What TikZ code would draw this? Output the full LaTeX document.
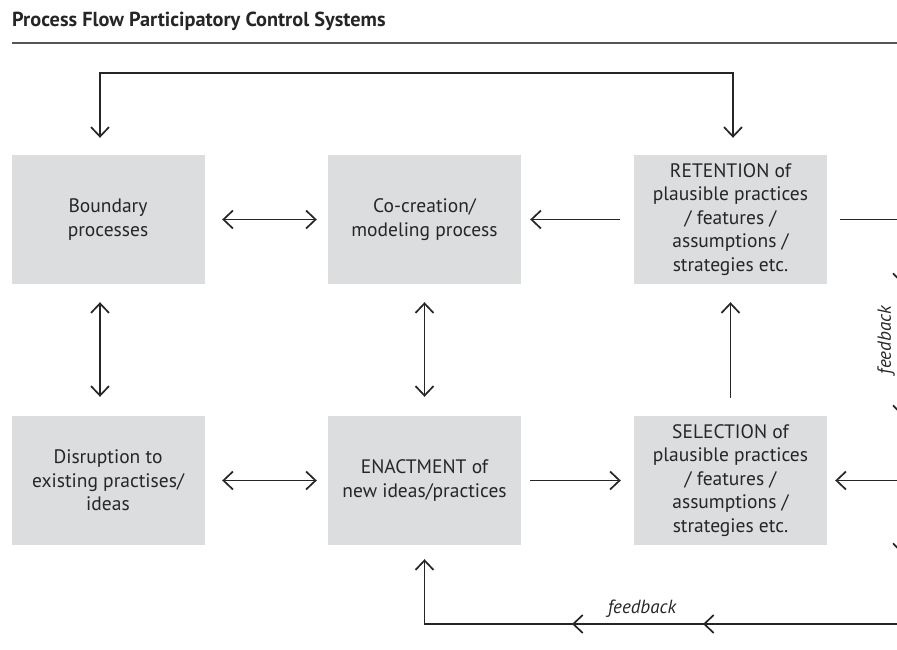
\documentclass[tikz,border=0pt]{standalone}
\usepackage{fontspec}
\setmainfont{PT Sans}
\usetikzlibrary{arrows.meta}
\definecolor{boxgray}{HTML}{DCDDDF}
\definecolor{ink}{HTML}{262626}
\definecolor{rulegray}{HTML}{555555}

\begin{document}
\begin{tikzpicture}[x=1pt,y=-1pt,
  box/.style={fill=boxgray, minimum width=193pt, minimum height=129pt,
    inner sep=0pt, align=center, text=ink,
    font=\fontsize{19.5}{23.5}\selectfont},
  barb/.tip={Straight Barb[length=9.5pt,width=18pt,line width=1.7pt]},
  link/.style={draw=ink, line width=1.7pt, -barb},
  dlink/.style={draw=ink, line width=1.7pt, barb-barb},
  plain/.style={draw=ink, line width=1.7pt},
  fb/.style={text=ink, inner sep=0pt, font=\itshape\fontsize{19}{21}\selectfont}
]
\useasboundingbox (0,0) rectangle (897,650);
\clip (0,0) rectangle (897,650);

% heading and rule
\node[anchor=base west, inner sep=0pt, text=ink,
      font=\bfseries\fontsize{20.3}{24}\selectfont] (title) at (12,27)
  {Process Flow Participatory Control Systems};
\coordinate (ruleL) at (12,43);
\coordinate (ruleR) at (897,43);
\draw[rulegray, line width=1.3pt] (ruleL) -- (ruleR);

% process boxes
\node[box] (bnd)   at (108,219.5)   {Boundary\\processes};
\node[box] (cocr)  at (424.5,219.5) {Co-creation/\\modeling process};
\node[box] (ret)   at (730.5,219.5) {RETENTION of\\plausible practices\\/ features /\\assumptions /\\strategies etc.};
\node[box] (dis)   at (108,480.5)   {Disruption to\\existing practises/\\ideas};
\node[box] (enact) at (424.5,480.5) {ENACTMENT of\\new ideas/practices};
\node[box] (sel)   at (730.5,480.5) {SELECTION of\\plausible practices\\/ features /\\assumptions /\\strategies etc.};

% top loop from retention back to the boundary processes
\draw[dlink, shorten <=17pt, shorten >=17pt]
  ([xshift=-8pt]bnd.north) -- ++(0,-82) -| ([xshift=2.5pt]ret.north);

% first row
\draw[dlink, shorten <=17.5pt, shorten >=11pt] (bnd.east) -- (cocr.west);
\draw[link, shorten <=14pt, shorten >=9pt] (ret.west) -- (cocr.east);
\coordinate (rtop) at (902,219.5);
\draw[plain, shorten <=13pt] (ret.east) -- (rtop);

% vertical links
\draw[dlink, shorten <=18pt, shorten >=19pt]
  ([xshift=-8pt]bnd.south) -- ([xshift=-8pt]dis.north);
\draw[dlink, shorten <=18pt, shorten >=19pt] (cocr.south) -- (enact.north);
\draw[link, shorten <=18pt, shorten >=18pt] (sel.north) -- (ret.south);

% second row
\draw[dlink, shorten <=17.5pt, shorten >=11pt] (dis.east) -- (enact.west);
\draw[link, shorten <=9pt, shorten >=13pt] (enact.east) -- (sel.west);
\coordinate (rmid) at (902,480.5);
\draw[link, shorten >=8pt] (rmid) -- (sel.east);

% feedback return along the right edge
\coordinate (rbot) at (902,624);
\draw[plain] (rtop) -- (rbot);
\foreach \y in {284,416,554}
  \draw[link] (902,\y-10) -- (902,\y);
\node[fb, rotate=90] (fbside) at (886,340) {feedback};

% feedback return along the bottom
\draw[link, shorten >=14pt] (rbot) -| (enact.south);
\coordinate (tipA) at (703,624);
\coordinate (tipB) at (572,624);
\draw[link] ([xshift=10pt]tipA) -- (tipA);
\draw[link] ([xshift=10pt]tipB) -- (tipB);
\node[fb, anchor=base] (fbbot) at (642,613) {feedback};
\end{tikzpicture}
\end{document}
